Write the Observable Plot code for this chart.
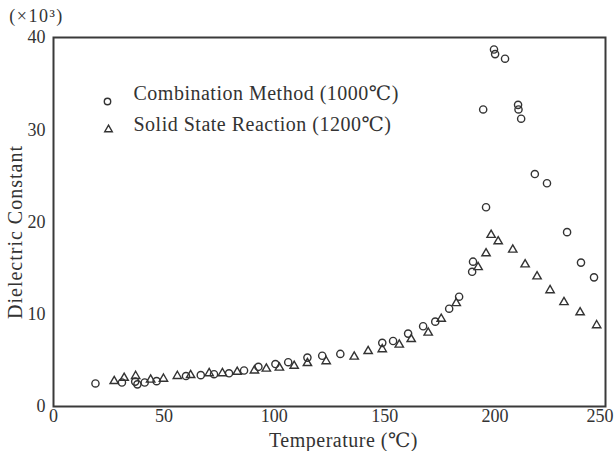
<!DOCTYPE html>
<html>
<head>
<meta charset="utf-8">
<script src="https://cdn.jsdelivr.net/npm/d3@7"></script>
<script src="https://cdn.jsdelivr.net/npm/@observablehq/plot@0.6"></script>
<style>
  html, body { margin: 0; padding: 0; background: #fff; }
</style>
</head>
<body>
<div id="chart"></div>
<script>
// Combination Method (1000℃) — circles
const combT = [19, 31, 37, 38, 41.3, 46.7, 60, 66.7, 72.7, 79.5, 86.3, 92.8, 100.5, 106.3, 115, 121.7, 129.9, 148.9, 153.8, 160.6, 167.4, 172.9, 179.2, 183.7, 189.6, 190, 194.6, 195.9, 199.5, 200, 204.5, 210.4, 210.6, 211.8, 218, 223.5, 232.6, 238.9, 244.8];
const combV = [2.5, 2.6, 2.7, 2.4, 2.6, 2.75, 3.3, 3.4, 3.5, 3.6, 3.9, 4.3, 4.6, 4.8, 5.3, 5.5, 5.7, 6.9, 7.1, 7.9, 8.7, 9.2, 10.6, 11.9, 14.6, 15.7, 32.2, 21.6, 38.7, 38.2, 37.7, 32.7, 32.2, 31.2, 25.2, 24.2, 18.9, 15.6, 14.0];
// Solid State Reaction (1200℃) — triangles
const solidT = [27.5, 32, 37.2, 44, 49.8, 56.1, 62.1, 70.5, 76.5, 83.2, 91, 96.4, 102.3, 109, 115, 123.5, 136.2, 142.5, 148.9, 156.6, 162, 169.7, 175.6, 182.4, 192.3, 195.9, 198.2, 201.4, 208, 213.6, 219, 224.9, 231.2, 238.5, 246];
const solidV = [2.75, 3.1, 3.3, 2.9, 3.0, 3.3, 3.4, 3.6, 3.6, 3.75, 3.9, 4.1, 4.2, 4.4, 4.7, 4.9, 5.4, 6.0, 6.2, 6.7, 7.3, 8.0, 9.5, 11.2, 15.1, 16.6, 18.6, 17.9, 17.0, 15.4, 14.1, 12.6, 11.3, 10.2, 8.8];

const xTicks = [0, 50, 100, 150, 200, 250];
const yTicks = [0, 10, 20, 30, 40];
const seriesLabels = ["Combination Method (1000℃)", "Solid State Reaction (1200℃)"];
const xTitle = "Temperature (℃)";
const yTitle = "Dielectric Constant";
const yUnit = "(×10³)";

const comb = combT.map((t, i) => ({t, v: combV[i]}));
const solid = solidT.map((t, i) => ({t, v: solidV[i]}));

const ink = "#333";
const font = "'Liberation Serif', 'DejaVu Serif', serif";

const chart = Plot.plot({
  width: 614,
  height: 451,
  marginLeft: 53,
  marginRight: 9,
  marginTop: 37,
  marginBottom: 45,
  style: {fontFamily: font, fontSize: "18px", color: ink, background: "#fff"},
  x: {domain: [0, 250]},
  y: {domain: [0, 40]},
  marks: [
    Plot.frame({stroke: "#3a3a3a", strokeWidth: 2}),
    Plot.axisX({ticks: xTicks.slice(0, 5), tickSize: 0, tickPadding: 3, label: null, fill: ink}),
    Plot.text([xTicks[5]], {x: d => d, frameAnchor: "bottom", textAnchor: "end", lineAnchor: "top", dx: 8, dy: 3, fill: ink}),
    Plot.axisY({ticks: yTicks, tickSize: 0, tickPadding: 8, label: null, fill: ink}),
    Plot.text([yTitle], {frameAnchor: "left", textAnchor: "middle", lineAnchor: "middle", rotate: -90, dx: -38, dy: 10, fontSize: 20, fill: ink}),
    Plot.text([xTitle], {frameAnchor: "bottom", textAnchor: "middle", lineAnchor: "middle", dx: 14, dy: 34, fontSize: 20, fill: ink}),
    Plot.text([yUnit], {frameAnchor: "top-left", textAnchor: "middle", lineAnchor: "middle", dx: -17, dy: -21, fontSize: 18, fill: ink}),
    Plot.dot(comb, {x: "t", y: "v", symbol: "circle", r: 3.6, stroke: ink, strokeWidth: 1.4, fill: "none"}),
    Plot.dot(solid, {x: "t", y: "v", symbol: "triangle", r: 3.1, stroke: ink, strokeWidth: 1.4, fill: "none"}),
    // legend
    Plot.dot([0], {frameAnchor: "top-left", dx: 54, dy: 64, symbol: "circle", r: 3.2, stroke: ink, strokeWidth: 1.4, fill: "none"}),
    Plot.dot([0], {frameAnchor: "top-left", dx: 55, dy: 92, symbol: "triangle", r: 2.8, stroke: ink, strokeWidth: 1.4, fill: "none"}),
    Plot.text([seriesLabels[0]], {frameAnchor: "top-left", dx: 80, dy: 56, textAnchor: "start", lineAnchor: "middle", fontSize: 20, fill: ink}),
    Plot.text([seriesLabels[1]], {frameAnchor: "top-left", dx: 80, dy: 87, textAnchor: "start", lineAnchor: "middle", fontSize: 20, fill: ink})
  ]
});

// letter spacing for the wide-set titles and legend
const spacing = new Map([[yTitle, 1], [xTitle, 0.5], [yUnit, 1.5], [seriesLabels[0], 0.5], [seriesLabels[1], 0.5]]);
d3.select(chart).selectAll("text").each(function() {
  const s = spacing.get(this.textContent);
  if (s != null) this.setAttribute("letter-spacing", s);
});

document.getElementById("chart").appendChild(chart);
</script>
</body>
</html>
